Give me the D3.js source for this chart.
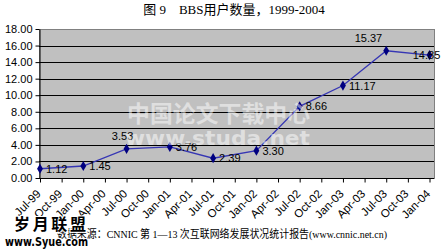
<!DOCTYPE html>
<html>
<head>
<meta charset="utf-8">
<script src="https://cdn.jsdelivr.net/npm/d3@7"></script>
<style>
  body { margin: 0; background: #fff; }
  svg { display: block; }
</style>
</head>
<body>
<svg id="chart" width="444" height="250"></svg>
<script>
// categories along the x axis (quarterly)
var months = ["Jul-99","Oct-99","Jan-00","Apr-00","Jul-00","Oct-00","Jan-01","Apr-01","Jul-01","Oct-01",
              "Jan-02","Apr-02","Jul-02","Oct-02","Jan-03","Apr-03","Jul-03","Oct-03","Jan-04"]
// BBS users (million), only surveyed every half year
var users = [1.12, null, 1.45, null, 3.53, null, 3.76, null, 2.39, null,
             3.30, null, 8.66, null, 11.17, null, 15.37, null, 14.85]
var yTicks = [0, 2, 4, 6, 8, 10, 12, 14, 16, 18]

var svg = d3.select("#chart")
// plot box (window.top is reserved, so plotTop)
var plotLeft = 39, plotRight = 434, plotTop = 29, plotBottom = 178

var x = d3.scalePoint().domain(months).range([40, 429.5])
var y = d3.scaleLinear().domain([0, 18]).range([plotBottom, plotTop])

// title
svg.append("text")
  .attr("x", 234).attr("y", 14)
  .attr("text-anchor", "middle")
  .style("font-family", "'Liberation Serif', 'Noto Sans CJK SC', serif")
  .style("font-size", "13px")
  .text("图 9　BBS用户数量，1999-2004")

// plot background
svg.append("rect")
  .attr("x", plotLeft + 0.5).attr("y", plotTop + 0.5)
  .attr("width", plotRight - plotLeft).attr("height", plotBottom - plotTop)
  .attr("fill", "#c0c0c0")
  .attr("stroke", "#808080")

// gridlines
svg.selectAll(".grid")
  .data(yTicks.filter(function(d) { return d > 0 && d < 18 }))
  .enter()
  .append("line")
  .attr("class", "grid")
  .attr("x1", plotLeft).attr("x2", plotRight)
  .attr("y1", function(d) { return Math.round(y(d)) + 0.5 })
  .attr("y2", function(d) { return Math.round(y(d)) + 0.5 })
  .attr("stroke", "#000")

// y axis
var yAxis = svg.append("g")
  .attr("transform", "translate(" + (plotLeft + 0.5) + ",0)")
  .call(d3.axisLeft(y).tickValues(yTicks).tickSize(4).tickSizeOuter(0).tickPadding(3)
    .tickFormat(function(d) { return d3.format(".2f")(d) }))
yAxis.select(".domain").attr("stroke", "#000")
yAxis.selectAll("text")
  .style("font-family", "'Liberation Sans', Arial, sans-serif")
  .style("font-size", "11px")
  .attr("fill", "#000")

// x axis
var xAxis = svg.append("g")
  .attr("transform", "translate(0," + (plotBottom + 0.5) + ")")
  .call(d3.axisBottom(x).tickSize(4).tickSizeOuter(0))
xAxis.select(".domain").attr("d", "M" + plotLeft + ",0H" + plotRight).attr("stroke", "#000")
xAxis.selectAll("text")
  .style("font-family", "'Liberation Sans', Arial, sans-serif")
  .style("font-size", "11.5px")
  .attr("fill", "#000")
  .attr("text-anchor", "end")
  .attr("dy", null)
  .attr("y", 0)
  .attr("transform", "translate(1,16) rotate(-45)")

// series line
var pts = months.map(function(m, i) { return {m: m, v: users[i]} })
  .filter(function(d) { return d.v !== null })

svg.append("path")
  .datum(pts)
  .attr("fill", "none")
  .attr("stroke", "#3636b4")
  .attr("stroke-width", 1.3)
  .attr("d", d3.line().x(function(d) { return x(d.m) }).y(function(d) { return y(d.v) }))

svg.selectAll(".mark")
  .data(pts)
  .enter()
  .append("path")
  .attr("class", "mark")
  .attr("d", d3.symbol().type(d3.symbolDiamond).size(30))
  .attr("transform", function(d) { return "translate(" + x(d.m) + "," + y(d.v) + ")" })
  .attr("fill", "#000080")

// data labels: most sit right of the marker
function labelPlace(d) {
  if (d.m == "Jul-00") return {dx: -4, dy: -9, anchor: "middle"}
  if (d.m == "Jul-03") return {dx: -4, dy: -9, anchor: "end"}
  if (d.m == "Jan-04") return {dx: -3, dy: 4, anchor: "middle"}
  return {dx: 6, dy: 4, anchor: "start"}
}
svg.selectAll(".lbl")
  .data(pts)
  .enter()
  .append("text")
  .attr("class", "lbl")
  .attr("x", function(d) { return x(d.m) + labelPlace(d).dx })
  .attr("y", function(d) { return y(d.v) + labelPlace(d).dy })
  .attr("text-anchor", function(d) { return labelPlace(d).anchor })
  .style("font-family", "'Liberation Sans', Arial, sans-serif")
  .style("font-size", "11px")
  .attr("fill", "#000")
  .text(function(d) { return d3.format(".2f")(d.v) })

// watermark over the middle of the plot
svg.append("text")
  .attr("x", 127).attr("y", 122)
  .attr("textLength", 183).attr("lengthAdjust", "spacingAndGlyphs")
  .style("font-family", "'Noto Sans CJK SC', sans-serif")
  .style("font-weight", "bold")
  .style("font-size", "23px")
  .attr("fill", "#fff").attr("fill-opacity", 0.5)
  .text("中国论文下载中心")
svg.append("text")
  .attr("x", 125).attr("y", 145)
  .attr("textLength", 185).attr("lengthAdjust", "spacingAndGlyphs")
  .style("font-family", "'DejaVu Sans', sans-serif")
  .style("font-weight", "bold")
  .style("font-size", "20px")
  .attr("fill", "#fff").attr("fill-opacity", 0.5)
  .text("www.studa.net")

// source note
svg.append("text")
  .attr("x", 57).attr("y", 238)
  .attr("textLength", 330).attr("lengthAdjust", "spacingAndGlyphs")
  .style("font-family", "'Liberation Serif', 'Noto Sans CJK SC', serif")
  .style("font-size", "11px")
  .text("数据来源：CNNIC 第 1—13 次互联网络发展状况统计报告(www.cnnic.net.cn)")

// site stamp bottom left
svg.append("text")
  .attr("x", 14).attr("y", 230)
  .attr("textLength", 72).attr("lengthAdjust", "spacing")
  .style("font-family", "'Noto Sans CJK SC', sans-serif")
  .style("font-weight", "bold")
  .style("font-size", "16px")
  .attr("fill", "#000").attr("stroke", "#fff").attr("stroke-width", 2).attr("paint-order", "stroke")
  .text("岁月联盟")
svg.append("text")
  .attr("x", 5).attr("y", 246)
  .attr("textLength", 83).attr("lengthAdjust", "spacingAndGlyphs")
  .style("font-family", "'DejaVu Sans', sans-serif")
  .style("font-weight", "bold")
  .style("font-size", "12px")
  .attr("fill", "#000").attr("stroke", "#fff").attr("stroke-width", 2).attr("paint-order", "stroke")
  .text("www.Syue.com")
</script>
</body>
</html>
